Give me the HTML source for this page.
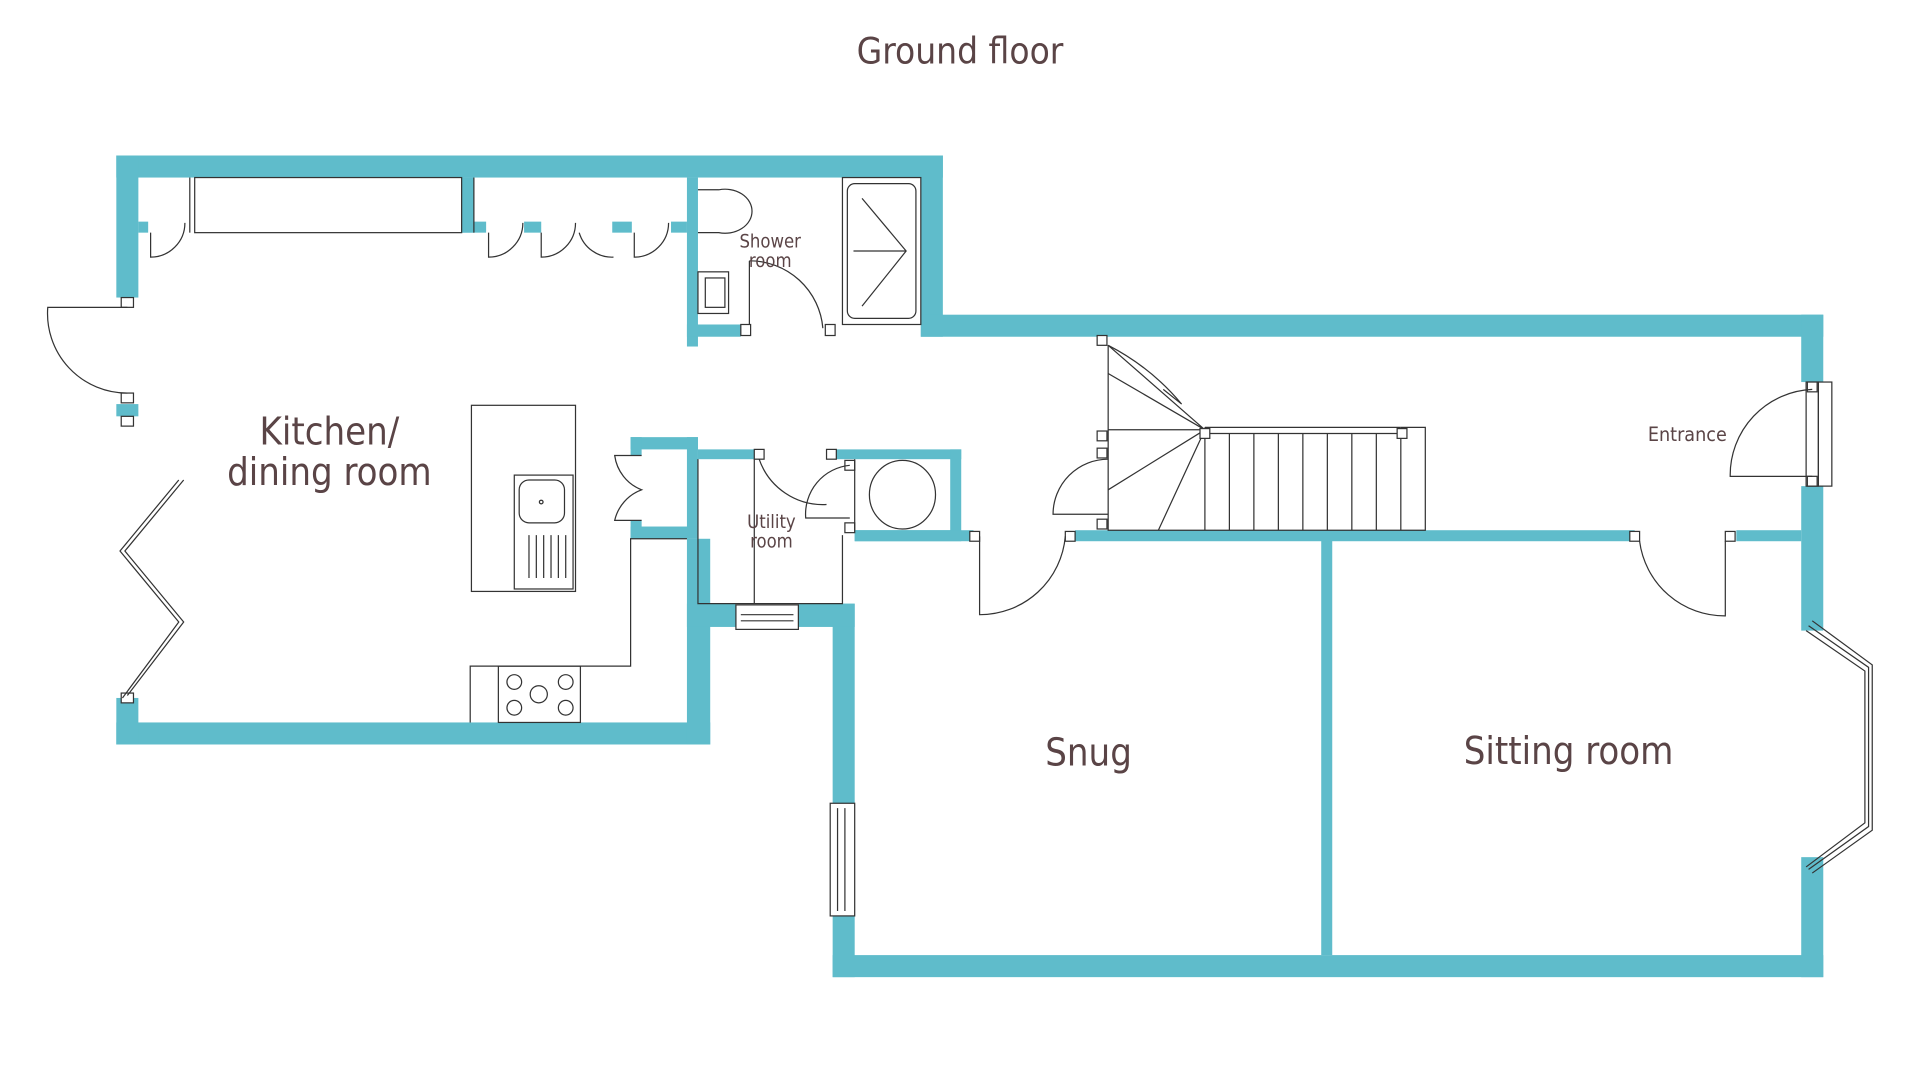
<!DOCTYPE html>
<html><head><meta charset="utf-8"><style>
html,body{margin:0;padding:0;background:#fff;}
svg{display:block}
text{font-family:"DejaVu Sans Condensed","Liberation Sans",sans-serif;fill:#5a4446}
</style></head><body>
<svg width="1920" height="1080" viewBox="0 0 1568 882" preserveAspectRatio="none" xmlns="http://www.w3.org/2000/svg">
<g fill="#5fbccb">
<!-- top wall -->
<rect x="95" y="127" width="675" height="18"/>
<rect x="95" y="127" width="18" height="116"/>
<rect x="752" y="127" width="18" height="148"/>
<rect x="752" y="257" width="737" height="18"/>
<rect x="1471" y="257" width="18" height="55"/>
<rect x="1471" y="397" width="18" height="118"/>
<rect x="1471" y="700" width="18" height="98"/>
<rect x="680" y="780" width="809" height="18"/>
<rect x="680" y="493" width="18" height="163"/>
<rect x="680" y="748" width="18" height="50"/>
<rect x="95" y="590" width="485" height="18"/>
<rect x="95" y="570" width="18" height="38"/>
<rect x="95" y="330" width="18" height="10"/>
<rect x="561" y="440" width="19" height="168"/>
<rect x="561" y="493" width="40" height="19"/>
<rect x="652" y="493" width="46" height="19"/>
<rect x="561" y="145" width="9" height="138"/>
<rect x="561" y="265" width="44" height="10"/>
<rect x="1079" y="440" width="9" height="340"/>
<rect x="698" y="433" width="97" height="9"/>
<rect x="878" y="433" width="457" height="9"/>
<rect x="1418" y="433" width="53" height="9"/>
<rect x="561" y="357" width="9" height="83"/>
<rect x="515" y="357" width="55" height="10"/>
<rect x="515" y="357" width="9" height="15"/>
<rect x="515" y="425" width="9" height="15"/>
<rect x="515" y="430" width="55" height="10"/>
<rect x="570" y="367" width="50" height="8"/>
<rect x="675" y="367" width="110" height="8"/>
<rect x="776" y="367" width="9" height="73"/>
<rect x="698" y="433" width="87" height="9"/>
<rect x="113" y="181" width="8" height="9"/>
<rect x="377" y="145" width="10" height="45"/>
<rect x="377" y="181" width="20" height="9"/>
<rect x="428" y="181" width="14" height="9"/>
<rect x="500" y="181" width="16" height="9"/>
<rect x="548" y="181" width="13" height="9"/>
</g>
<g fill="none" stroke="#333" stroke-width="1">
<!-- kitchen cupboard -->
<rect x="159" y="145" width="218" height="45"/>
<line x1="387" y1="145" x2="387" y2="190"/>
<line x1="155" y1="145" x2="155" y2="190"/>
<path d="M123 190 v20 a28 28 0 0 0 28 -28"/>
<path d="M399 190 v20 a28 28 0 0 0 28 -28 M442 190 v20 a28 28 0 0 0 28 -28 M473 190 a28 28 0 0 0 28 20 M518 190 v20 a28 28 0 0 0 28 -28"/>
<!-- kitchen door left -->
<rect x="99" y="243" width="10" height="8" fill="#fff"/>
<rect x="99" y="321" width="10" height="8" fill="#fff"/>
<rect x="99" y="340" width="10" height="8" fill="#fff"/>
<path d="M104 251 H39 A65 65 0 0 0 104 321"/>
<!-- bifold -->
<rect x="99" y="566" width="10" height="8" fill="#fff"/>
<path d="M104 568 L150 508 L102 450 L150 392 M100 570 L146 508 L98 450 L146 392"/>
<!-- island -->
<rect x="385" y="331" width="85" height="152"/>
<rect x="420" y="388" width="48" height="93"/>
<rect x="424" y="392" width="37" height="35" rx="8"/>
<circle cx="442" cy="410" r="1.5"/>
<path d="M432 437v35M438 437v35M444 437v35M450 437v35M456 437v35M462 437v35"/>
<!-- hob counter -->
<path d="M384 590 V544 H515 V440 H561"/>
<rect x="407" y="544" width="67" height="46"/>
<circle cx="420" cy="557" r="6"/><circle cx="462" cy="557" r="6"/><circle cx="440" cy="567" r="7"/><circle cx="420" cy="578" r="6"/><circle cx="462" cy="578" r="6"/>
<!-- kitchen cupboard doors -->
<path d="M524 372 H502 A35 35 0 0 0 524 400 A35 35 0 0 0 502 425 H524"/>
<!-- shower -->
<path d="M570 155 H587 A22 18 0 1 1 587 190 H570"/>
<rect x="688" y="145" width="64" height="120"/>
<rect x="692" y="150" width="56" height="110" rx="6"/>
<path d="M704 162 L740 205 L704 250 M697 205 H740"/>
<rect x="570" y="222" width="25" height="34"/>
<rect x="576" y="227" width="16" height="24"/>
<path d="M612 213 V265 M612 213 A60 60 0 0 1 672 268"/>
<rect x="605" y="265" width="8" height="9" fill="#fff"/>
<rect x="674" y="265" width="8" height="9" fill="#fff"/>
<!-- utility -->
<path d="M570 375 V493 H688 V437 M616 375 V493"/>
<rect x="616" y="367" width="8" height="8" fill="#fff"/>
<path d="M620 375 A55 55 0 0 0 675 412"/>
<rect x="601" y="494" width="51" height="20"/>
<path d="M605 502 H648 M605 507 H648"/>
<rect x="675" y="367" width="8" height="8" fill="#fff"/>
<rect x="690" y="376" width="8" height="8" fill="#fff"/>
<rect x="690" y="427" width="8" height="8" fill="#fff"/>
<path d="M694 380 A40 40 0 0 0 658 423 H694"/>
<ellipse cx="737" cy="404" rx="27" ry="28"/>
<line x1="698" y1="375" x2="698" y2="433"/>
<!-- snug door -->
<rect x="792" y="434" width="8" height="8" fill="#fff"/>
<rect x="870" y="434" width="8" height="8" fill="#fff"/>
<path d="M800 438 V502 A70 70 0 0 0 870 438"/>
<!-- snug window -->
<rect x="678" y="656" width="20" height="92"/>
<path d="M684 660 V744 M690 660 V744"/>
<!-- stairs -->
<path d="M905 282 V433 H1164 V349 H1144"/>
<path d="M984 354 H1144 M984 349 H1144 M984 349 V433"/>
<path d="M1004 354V433M1024 354V433M1044 354V433M1064 354V433M1084 354V433M1104 354V433M1124 354V433M1144 354V433"/>
<path d="M905 351 H984 M984 351 L905 305 M984 351 L905 400 M984 351 L946 433 M984 351 L905 282"/>
<path d="M905 282 Q940 300 965 330 L950 318"/>
<rect x="896" y="274" width="8" height="8" fill="#fff"/>
<rect x="980" y="350" width="8" height="8" fill="#fff"/>
<rect x="1141" y="350" width="8" height="8" fill="#fff"/>
<rect x="896" y="352" width="8" height="8" fill="#fff"/>
<rect x="896" y="366" width="8" height="8" fill="#fff"/>
<rect x="896" y="424" width="8" height="8" fill="#fff"/>
<path d="M905 375 A45 45 0 0 0 860 420 H905"/>
<!-- entrance -->
<rect x="1475" y="312" width="10" height="85" fill="#fff"/>
<rect x="1485" y="312" width="11" height="85"/>
<rect x="1476" y="312" width="8" height="8" fill="#fff"/>
<rect x="1476" y="389" width="8" height="8" fill="#fff"/>
<path d="M1480 318 A70 70 0 0 0 1413 389 H1480"/>
<!-- sitting door -->
<rect x="1331" y="434" width="8" height="8" fill="#fff"/>
<rect x="1409" y="434" width="8" height="8" fill="#fff"/>
<path d="M1409 442 V503 A70 70 0 0 1 1339 442"/>
<!-- bay window -->
<path d="M1475 515 L1523 548 V672 L1475 708 M1480 507 L1529 543 V678 L1480 713 M1477 511 L1526 545 V675 L1477 710"/>
</g>
<text x="784" y="52" font-size="30" text-anchor="middle">Ground floor</text>
<text x="269" y="363" font-size="31" text-anchor="middle">Kitchen/</text>
<text x="269" y="396" font-size="31" text-anchor="middle">dining room</text>
<text x="629" y="202" font-size="15" text-anchor="middle">Shower</text>
<text x="629" y="218" font-size="15" text-anchor="middle">room</text>
<text x="630" y="431" font-size="15" text-anchor="middle">Utility</text>
<text x="630" y="447" font-size="15" text-anchor="middle">room</text>
<text x="889" y="625" font-size="31" text-anchor="middle">Snug</text>
<text x="1281" y="624" font-size="31" text-anchor="middle">Sitting room</text>
<text x="1378" y="360" font-size="16" text-anchor="middle">Entrance</text>
</svg>
</body></html>
